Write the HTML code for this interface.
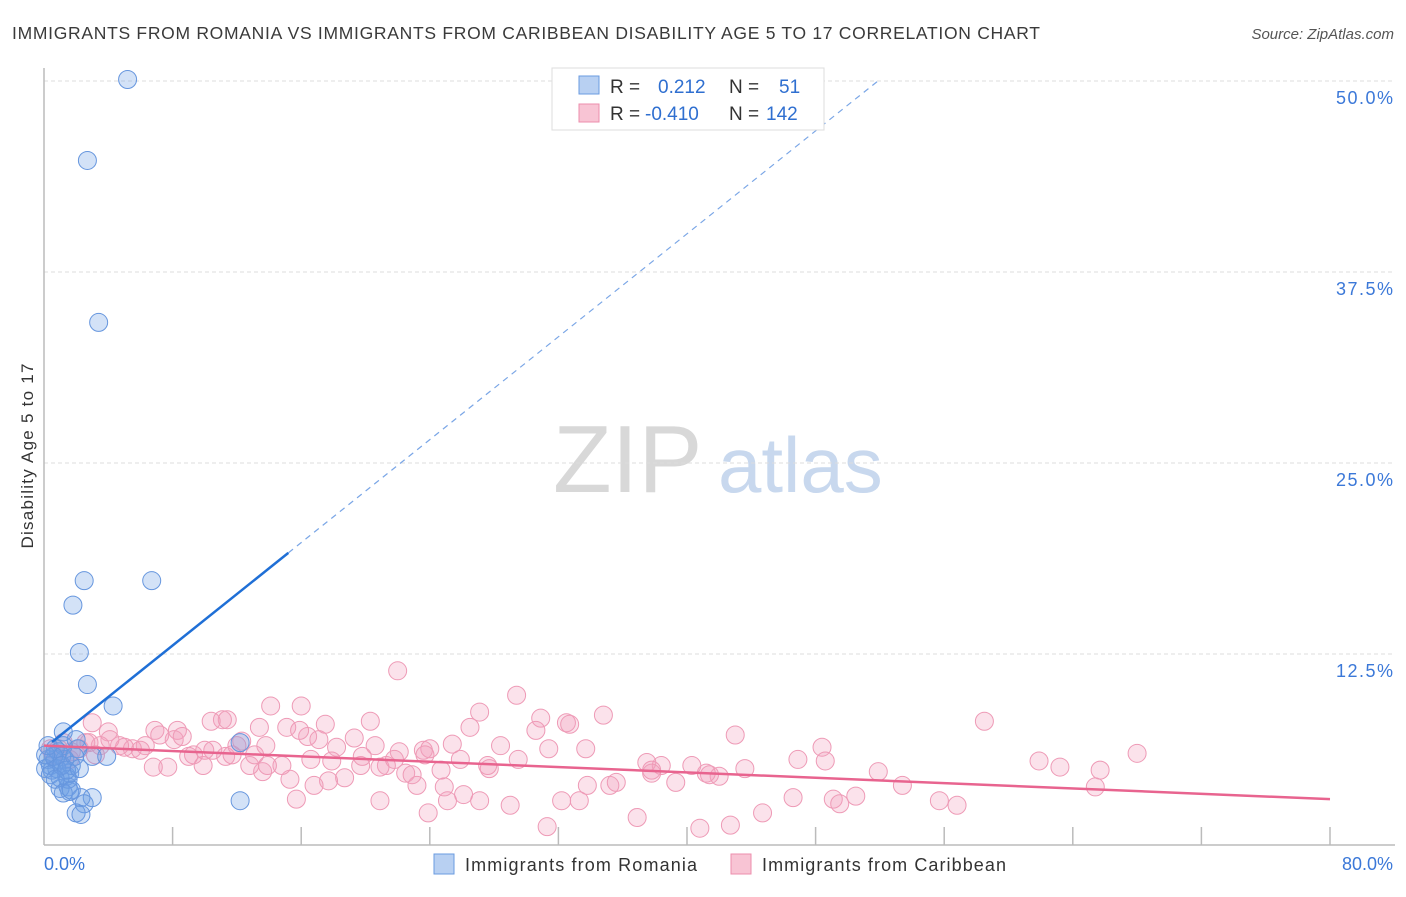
<!DOCTYPE html>
<html><head><meta charset="utf-8"><style>
body{margin:0;background:#fff;font-family:"Liberation Sans",sans-serif;}
svg text{font-family:"Liberation Sans",sans-serif;}
</style></head><body>
<svg width="1406" height="892" viewBox="0 0 1406 892">
<text x="12" y="39" font-size="17.5" fill="#3a3a3a" textLength="1028" lengthAdjust="spacing">IMMIGRANTS FROM ROMANIA VS IMMIGRANTS FROM CARIBBEAN DISABILITY AGE 5 TO 17 CORRELATION CHART</text>
<text x="1394" y="39" font-size="15" font-style="italic" fill="#555" text-anchor="end">Source: ZipAtlas.com</text>
<g>
<text x="553" y="492" font-size="96" font-family="Liberation Serif" fill="#d8d8d8">ZIP</text>
<text x="718" y="492" font-size="78" fill="#c8d8ee">atlas</text>
</g>
<g id="grid"></g>
<g id="axes"></g>
<g id="pts"></g>
<g id="trends"></g>
<text transform="translate(33,456) rotate(-90)" font-size="17" fill="#333" text-anchor="middle" textLength="185" lengthAdjust="spacing">Disability Age 5 to 17</text>
<g>
<rect x="552" y="68" width="272" height="62" fill="#fff" stroke="#ddd"/>
<rect x="579" y="76" width="20" height="18" fill="#b8d0f2" stroke="#6a9be0"/>
<rect x="579" y="104" width="20" height="18" fill="#f8c4d4" stroke="#ec8eac"/>
<text x="610" y="93" font-size="19" fill="#333">R = </text>
<text x="658" y="93" font-size="19" fill="#2f6fd0">0.212</text>
<text x="729" y="93" font-size="19" fill="#333">N =</text>
<text x="779" y="93" font-size="19" fill="#2f6fd0">51</text>
<text x="610" y="120" font-size="19" fill="#333">R = </text>
<text x="645" y="120" font-size="19" fill="#2f6fd0">-0.410</text>
<text x="729" y="120" font-size="19" fill="#333">N =</text>
<text x="766" y="120" font-size="19" fill="#2f6fd0">142</text>
</g>
<g>
<rect x="434" y="854" width="20" height="20" fill="#b8d0f2" stroke="#6a9be0"/>
<text x="465" y="871" font-size="18" fill="#333" textLength="232" lengthAdjust="spacing">Immigrants from Romania</text>
<rect x="731" y="854" width="20" height="20" fill="#f8c4d4" stroke="#ec8eac"/>
<text x="762" y="871" font-size="18" fill="#333" textLength="244" lengthAdjust="spacing">Immigrants from Caribbean</text>
</g>
</svg>
<script>
const yTicks=[12.5,25,37.5,50];
const yTickLabels=["12.5%","25.0%","37.5%","50.0%"];
const xTicks=[0,8,16,24,32,40,48,56,64,72,80];
const xEndLabels=["0.0%","80.0%"];
const blueX=[5.2,2.7,3.4,2.5,6.7,1.8,2.2,2.7,4.3,1.2,12.2,12.2,3.0,3.9,2.0,2.1,3.0,2.3,2.5,2.0,2.3,1.4,1.6,1.0,1.5,1.6,0.4,0.5,0.7,0.25,0.9,1.1,1.3,1.7,0.8,0.1,0.4,1.2,0.7,1.0,1.5,0.6,0.1,1.1,1.9,1.4,0.7,0.25,2.2,1.2,1.7];
const blueY=[50.1,44.8,34.2,17.3,17.3,15.7,12.6,10.5,9.1,7.4,6.7,2.9,5.8,5.8,6.9,6.3,3.1,3.1,2.7,2.1,2.0,4.5,4.7,3.7,3.8,3.5,5.2,4.9,5.6,5.6,6.1,5.8,5.6,5.2,5.0,5.0,4.6,6.5,6.3,4.4,4.3,5.8,5.9,5.2,5.8,4.9,4.3,6.5,5.0,3.4,3.6];
const pinkX=[22.0,29.4,34.8,58.5,68.0,43.0,48.4,14.1,16.0,11.1,11.4,10.4,13.4,15.1,17.5,20.3,27.1,26.5,30.9,32.5,32.7,30.6,3.0,6.9,8.3,8.1,7.2,8.6,4.0,12.3,13.8,16.4,17.1,19.3,20.6,18.2,22.1,23.6,24.0,25.4,28.4,31.4,33.7,38.4,37.5,42.0,43.6,46.9,48.6,51.9,61.9,65.7,65.4,55.7,56.8,53.4,50.5,49.1,49.5,46.6,44.7,42.7,40.8,36.9,35.2,33.8,33.3,32.2,31.3,29.0,27.1,26.1,25.1,23.9,23.2,22.5,22.9,21.3,20.9,19.7,18.7,17.7,16.8,15.7,15.3,13.6,12.8,11.3,10.5,9.9,9.3,9.0,7.7,6.8,6.3,5.5,5.0,4.7,4.1,3.5,2.6,2.2,1.7,1.2,0.9,0.4,0.6,1.6,2.8,3.2,6.0,10.0,11.7,13.1,14.8,16.6,17.9,19.8,21.8,24.7,27.7,29.5,35.6,37.8,39.3,40.3,41.4,41.2,37.8,27.6,24.9,25.9,23.7,20.9,15.9,12.0,13.9,63.2];
const pinkY=[11.4,9.8,8.5,8.1,6.0,7.2,6.4,9.1,9.1,8.2,8.2,8.1,7.7,7.7,7.9,8.1,8.7,7.7,8.3,8.0,7.9,7.5,8.0,7.5,7.5,6.9,7.2,7.1,7.4,6.8,6.5,7.1,6.9,7.0,6.5,6.4,6.1,6.2,6.3,6.6,6.5,6.3,6.3,5.2,5.4,4.5,5.0,5.6,5.5,4.8,5.5,4.9,3.8,2.9,2.6,3.9,3.2,3.0,2.7,3.1,2.1,1.3,1.1,1.8,3.9,3.9,2.9,2.9,1.2,2.6,2.9,3.3,2.9,2.1,3.9,4.7,4.6,5.2,5.1,5.2,4.4,4.2,3.9,3.0,4.3,4.8,5.2,5.8,6.2,5.2,5.9,5.8,5.1,5.1,6.5,6.3,6.4,6.5,6.9,6.5,6.7,6.3,6.1,6.7,6.3,6.3,5.9,5.6,6.7,5.9,6.2,6.2,5.9,5.9,5.2,5.6,5.5,5.8,5.6,4.9,5.0,5.6,4.1,4.9,4.1,5.2,4.6,4.7,4.7,5.2,3.8,5.6,5.9,2.9,7.5,6.5,5.2,5.1];
const blueTrend=[6.32,0.842]; const blueSolidEnd=15.2, blueDashEnd=52;
const pinkTrend=[6.5,-0.04375];
const X0=44,X1=1330,Y0=845;
const sx=v=>X0+(X1-X0)*v/80;
const sy=v=>Y0-v*(191/12.5);
const NS="http://www.w3.org/2000/svg";
function mk(tag,attrs,parent){const e=document.createElementNS(NS,tag);for(const k in attrs)e.setAttribute(k,attrs[k]);parent.appendChild(e);return e;}
const grid=document.getElementById('grid'),axes=document.getElementById('axes');
yTicks.forEach((t,i)=>{
 const l=mk('line',{x1:X0,x2:1393,y1:sy(t),y2:sy(t),stroke:'#ddd','stroke-dasharray':'4,3'},grid);
 
 
 const tx=mk('text',{x:1393,y:sy(t)+23,'font-size':18,fill:'#3b78d8','text-anchor':'end',textLength:57,lengthAdjust:'spacing'},axes);
 tx.textContent=yTickLabels[i];
 
 
});
const al=mk('line',{x1:X0,x2:X0,y1:68,y2:Y0,stroke:'#bbb','stroke-width':1.5},axes);


const bl=mk('line',{x1:X0,x2:1395,y1:Y0,y2:Y0,stroke:'#bbb','stroke-width':1.5},axes);


xTicks.forEach(t=>{if(t===0)return;
 const k=mk('line',{x1:sx(t),x2:sx(t),y1:Y0-18,y2:Y0,stroke:'#bbb','stroke-width':1.5},axes);
 
 
});
[[0,'start'],[80,'end']].forEach((p,i)=>{
 const tx=mk('text',{x:i?1393:44,y:870,'font-size':18,fill:'#3b78d8','text-anchor':p[1]},axes);
 tx.textContent=xEndLabels[i];
 
 
});
const pts=document.getElementById('pts');
pinkX.forEach((x,i)=>{
 const c=mk('circle',{cx:sx(x),cy:sy(pinkY[i]),r:9,fill:'rgba(242,160,188,0.3)',stroke:'#ee9ab6','stroke-width':1},pts);
 
 
});
blueX.forEach((x,i)=>{
 const c=mk('circle',{cx:sx(x),cy:sy(blueY[i]),r:9,fill:'rgba(110,160,230,0.3)',stroke:'#6696de','stroke-width':1},pts);
 
 
});
const tr=document.getElementById('trends');
const bf=v=>blueTrend[0]+blueTrend[1]*v;
const b1=mk('line',{x1:sx(0.5),y1:sy(bf(0.5)),x2:sx(blueSolidEnd),y2:sy(bf(blueSolidEnd)),stroke:'#1f6fd6','stroke-width':2.5},tr);


const b2=mk('line',{x1:sx(blueSolidEnd),y1:sy(bf(blueSolidEnd)),x2:sx(blueDashEnd),y2:sy(bf(blueDashEnd)),stroke:'#7aa6e6','stroke-width':1.2,'stroke-dasharray':'6,5'},tr);


const pf=v=>pinkTrend[0]+pinkTrend[1]*v;
const p1=mk('line',{x1:sx(0),y1:sy(pf(0)),x2:sx(80),y2:sy(pf(80)),stroke:'#e8648f','stroke-width':2.5},tr);


</script>
</body></html>
